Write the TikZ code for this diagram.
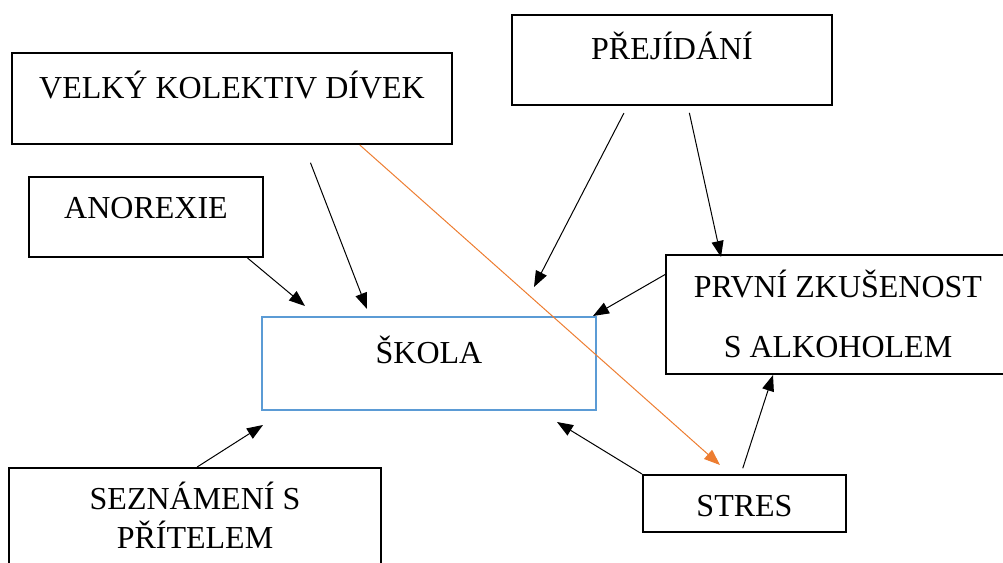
\documentclass[tikz,border=0pt]{standalone}
\usepackage{fontspec}
\setmainfont{Liberation Serif}
\usetikzlibrary{arrows.meta}
\definecolor{skolaBlue}{RGB}{91,155,213}
\definecolor{stressOrange}{RGB}{237,125,49}
\tikzset{%
  >={Triangle[width=12pt,length=16pt]},
  % Specifications for style of nodes:
         base/.style = {rectangle, draw=black, line width=2pt, inner sep=0pt,
                        text centered, align=center,
                        font=\fontsize{32}{39}\selectfont},
     causeBox/.style = {base},
    schoolBox/.style = {base, draw=skolaBlue},
  % Specifications for style of lines:
        cause/.style = {->, line width=1pt},
   stressLine/.style = {->, line width=1pt, draw=stressOrange},
}

\begin{document}
\begin{tikzpicture}[x=1pt, y=-1pt]
  \useasboundingbox (0,0) rectangle (1003,562);
  % Specification of nodes (position, etc.)
  \node (velky)     [causeBox, minimum width=440pt, text height=45pt, text depth=46pt]
                    at (232,98.5)  {VELKÝ KOLEKTIV DÍVEK};
  \node (anorexie)  [causeBox, minimum width=234pt, text height=41pt, text depth=39pt]
                    at (146,217)   {ANOREXIE};
  \node (prejidani) [causeBox, minimum width=320pt, text height=44pt, text depth=46pt]
                    at (672,60)    {PŘEJÍDÁNÍ};
  \node (prvni)     [causeBox, minimum width=344pt, text height=102pt, text depth=17pt,
                     font=\fontsize{32}{60}\selectfont]
                    at (838,314.5) {PRVNÍ ZKUŠENOST\\S ALKOHOLEM};
  \node (skola)     [schoolBox, minimum width=334pt, text height=46pt, text depth=47pt]
                    at (429,363.5) {ŠKOLA};
  \node (seznameni) [causeBox, minimum width=372pt, text height=80pt, text depth=41pt]
                    at (195,528.5) {SEZNÁMENÍ S\\PŘÍTELEM};
  \node (stres)     [causeBox, minimum width=203pt, text height=41pt, text depth=16pt]
                    at (744.5,503.5) {STRES};

  % arrow tips that stop short of the boxes
  \coordinate (tipAnorexie)  at (305,306);
  \coordinate (tipVelky)     at (367,309);
  \coordinate (tipStres)     at (720,465);
  \coordinate (tipPrejidani) at (534,287);
  \coordinate (tipAlkohol)   at (721,257);
  \coordinate (tipPrvni)     at (593,316);
  \coordinate (tipPritel)    at (263,425);
  \coordinate (tipSkola)     at (557,422);
  \coordinate (tipStresUp)   at (773,375);

  % Specification of lines between nodes specified above
  \draw[cause]                     (anorexie.-22.4) -- (tipAnorexie);
  \draw[cause, shorten <=19pt]     (velky.-33.8)    -- (tipVelky);
  \draw[stressLine]                (velky.-20.9)    -- (tipStres);
  \draw[cause, shorten <=8pt]      (prejidani.-134) -- (tipPrejidani);
  \draw[cause, shorten <=7pt]      (prejidani.-71)  -- (tipAlkohol);
  \draw[cause]                     (prvni.167.1)    -- (tipPrvni);
  \draw[cause]                     (seznameni.88.1) -- (tipPritel);
  \draw[cause]                (stres.north west)    -- (tipSkola);
  \draw[cause, shorten <=6pt]      (stres.97)       -- (tipStresUp);
\end{tikzpicture}
\end{document}
